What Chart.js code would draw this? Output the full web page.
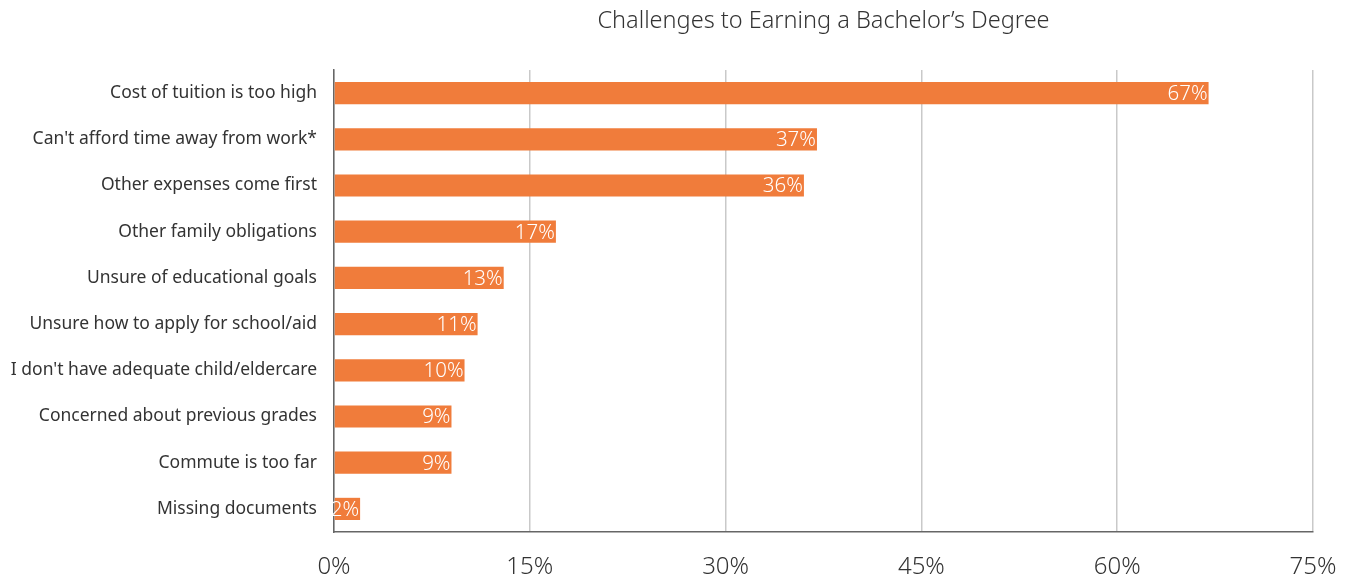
<!DOCTYPE html>
<html>
<head>
<meta charset="utf-8">
<title>Challenges to Earning a Bachelor's Degree</title>
<script src="https://cdn.jsdelivr.net/npm/chart.js@4"></script>
<style>
  html, body { margin: 0; padding: 0; background: #fff; }
  #wrap { width: 1351px; height: 578px; position: relative; }
</style>
</head>
<body>
<div id="wrap"><canvas id="chart"></canvas></div>
<script>
const chartTitle = "Challenges to Earning a Bachelor\u2019s Degree";

const categories = [
  "Cost of tuition is too high",
  "Can't afford time away from work*",
  "Other expenses come first",
  "Other family obligations",
  "Unsure of educational goals",
  "Unsure how to apply for school/aid",
  "I don't have adequate child/eldercare",
  "Concerned about previous grades",
  "Commute is too far",
  "Missing documents"
];

const shares = [67, 37, 36, 17, 13, 11, 10, 9, 9, 2];

const xTicks = [0, 15, 30, 45, 60, 75];

const FONT = "'Noto Sans', sans-serif";
const ORANGE = "#f07c3b";

// title centred over the plot area, not the whole canvas
const titlePlugin = {
  id: "plotTitle",
  afterDraw(chart) {
    const { ctx, chartArea } = chart;
    ctx.save();
    ctx.font = "300 23.5px " + FONT;
    ctx.fillStyle = "#333";
    ctx.textAlign = "center";
    ctx.textBaseline = "middle";
    ctx.fillText(chartTitle, (chartArea.left + chartArea.right) / 2, 21);
    ctx.restore();
  }
};

// white value text at the end of each bar
const valueLabels = {
  id: "valueLabels",
  afterDatasetsDraw(chart) {
    const { ctx } = chart;
    const meta = chart.getDatasetMeta(0);
    ctx.save();
    ctx.font = "300 20.5px " + FONT;
    ctx.fillStyle = "#fff";
    ctx.textAlign = "right";
    ctx.textBaseline = "middle";
    meta.data.forEach((bar, i) => {
      ctx.fillText(shares[i] + "%", bar.x - 1, bar.y + 1);
    });
    ctx.restore();
  }
};

new Chart(document.getElementById("chart"), {
  type: "bar",
  data: {
    labels: categories,
    datasets: [{
      data: shares,
      backgroundColor: ORANGE,
      borderWidth: 0,
      barPercentage: 0.48,
      categoryPercentage: 1
    }]
  },
  options: {
    indexAxis: "y",
    responsive: true,
    maintainAspectRatio: false,
    animation: false,
    layout: { padding: { top: 70, right: 38, left: 0, bottom: 0 } },
    plugins: {
      legend: { display: false },
      tooltip: { enabled: false }
    },
    scales: {
      x: {
        min: 0,
        max: 75,
        afterBuildTicks(scale) {
          scale.ticks = xTicks.map(v => ({ value: v }));
        },
        afterFit(scale) {
          scale.height = 46;
          scale.paddingRight = 0;
        },
        grid: { color: "#c9c9c9", lineWidth: 1.5, drawTicks: false },
        border: { display: true, color: "#666", width: 1.5 },
        ticks: {
          padding: 21,
          color: "#333",
          font: { family: FONT, size: 24, weight: 300 },
          callback: v => v + "%"
        }
      },
      y: {
        afterFit(scale) { scale.width = 334; },
        grid: { display: false, drawTicks: false },
        border: { display: true, color: "#666", width: 1.5 },
        ticks: {
          padding: 17,
          color: "#333",
          font: { family: FONT, size: 17.5 }
        }
      }
    }
  },
  plugins: [titlePlugin, valueLabels]
});
</script>
</body>
</html>
